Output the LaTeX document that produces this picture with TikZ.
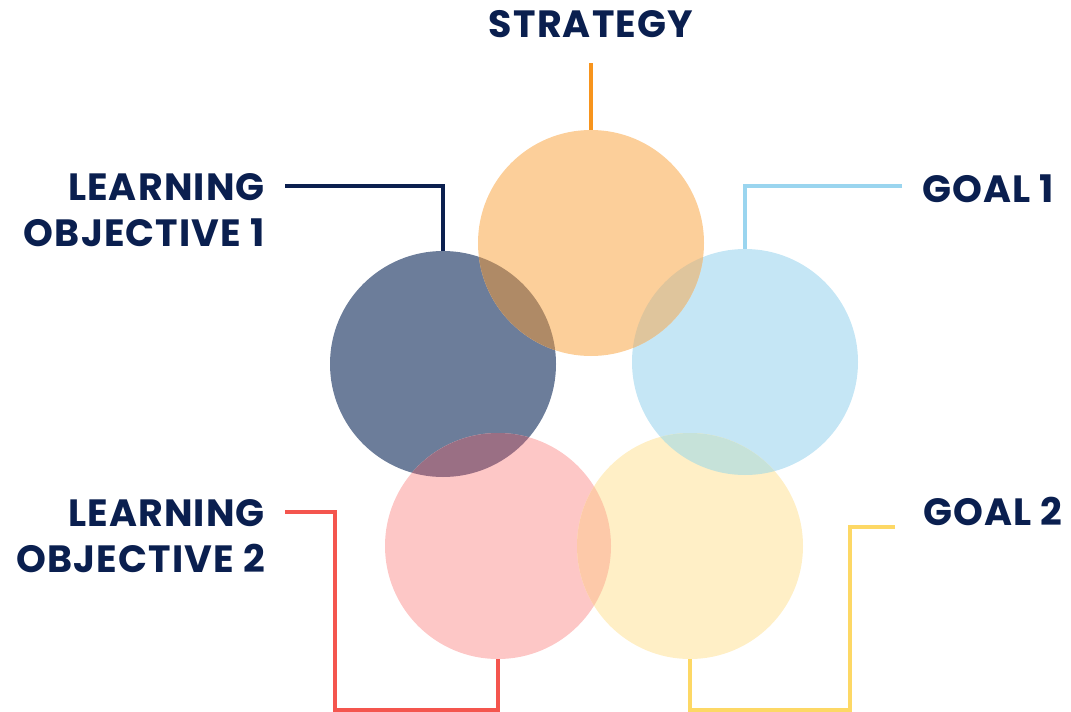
\documentclass[tikz,border=0pt]{standalone}
\usepackage{fontspec}
\setmainfont{Poppins}[LetterSpace=3]
\usepackage{tikz}

\definecolor{navytext}{HTML}{0A1F4F}
\definecolor{stratfill}{HTML}{FCCF9A}
\definecolor{stratline}{HTML}{F7941D}
\definecolor{lofill}{HTML}{6C7D9A}
\definecolor{loline}{HTML}{0B1F4F}
\definecolor{goalfill}{HTML}{C5E6F5}
\definecolor{goalline}{HTML}{9AD5EF}
\definecolor{lotwofill}{HTML}{FDC7C6}
\definecolor{lotwoline}{HTML}{F4554E}
\definecolor{goaltwofill}{HTML}{FFEFC6}
\definecolor{goaltwoline}{HTML}{FDD865}
% overlap colours
\definecolor{lostrat}{HTML}{AF8A66}
\definecolor{goalstrat}{HTML}{DFC59C}
\definecolor{lolotwo}{HTML}{9A6F84}
\definecolor{lotwogoaltwo}{HTML}{FDC9A9}
\definecolor{goalgoaltwo}{HTML}{C6E2D9}

\begin{document}
\begin{tikzpicture}[x=1pt, y=-1pt,
        bubble/.style={circle, minimum size=226pt, inner sep=0pt},
        label/.style={text=navytext, font=\fontsize{38}{46}\selectfont\bfseries, inner sep=0pt},
        link/.style={line width=4pt}]
    \useasboundingbox (0,0) rectangle (1071,712);

    % circles
    \node[bubble, fill=goalfill]    (goal1)    at (745,362) {};
    \node[bubble, fill=lofill]      (lo1)      at (443,364) {};
    \node[bubble, fill=stratfill]   (strategy) at (591,243) {};
    \node[bubble, fill=lotwofill]   (lo2)      at (498,546) {};
    \node[bubble, fill=goaltwofill] (goal2)    at (690,546) {};

    % overlaps
    \begin{scope}
        \clip (lo1) circle (113);
        \fill[lostrat] (strategy) circle (113);
    \end{scope}
    \begin{scope}
        \clip (goal1) circle (113);
        \fill[goalstrat] (strategy) circle (113);
    \end{scope}
    \begin{scope}
        \clip (lo1) circle (113);
        \fill[lolotwo] (lo2) circle (113);
    \end{scope}
    \begin{scope}
        \clip (lo2) circle (113);
        \fill[lotwogoaltwo] (goal2) circle (113);
    \end{scope}
    \begin{scope}
        \clip (goal1) circle (113);
        \fill[goalgoaltwo] (goal2) circle (113);
    \end{scope}

    % labels
    \node[label, anchor=base] (strattext) at (591,37) {STRATEGY};
    \node[label, anchor=base east, align=right] (lo1text) at (265,246) {LEARNING\\OBJECTIVE 1};
    \node[label, anchor=base west] (goal1text) at (922,202) {GOAL 1};
    \node[label, anchor=base east, align=right] (lo2text) at (265,572) {LEARNING\\OBJECTIVE 2};
    \node[label, anchor=base west] (goal2text) at (923,525) {GOAL 2};

    % connectors
    \coordinate (stratend) at (591,63);
    \coordinate (lo1end) at (285,186);
    \coordinate (goal1end) at (902,186);
    \coordinate (lo2end) at (285,512);
    \coordinate (lo2foot) at (335,710);
    \coordinate (goal2end) at (895,527);
    \coordinate (goal2foot) at (850,710);

    \draw[link, stratline] (stratend) -- (strategy.north);
    \draw[link, loline] (lo1end) -| (lo1.north);
    \draw[link, goalline] (goal1end) -| (goal1.north);
    \draw[link, lotwoline] (lo2end) -| (lo2foot) -| (lo2.south);
    \draw[link, goaltwoline] (goal2end) -| (goal2foot) -| (goal2.south);
\end{tikzpicture}
\end{document}
